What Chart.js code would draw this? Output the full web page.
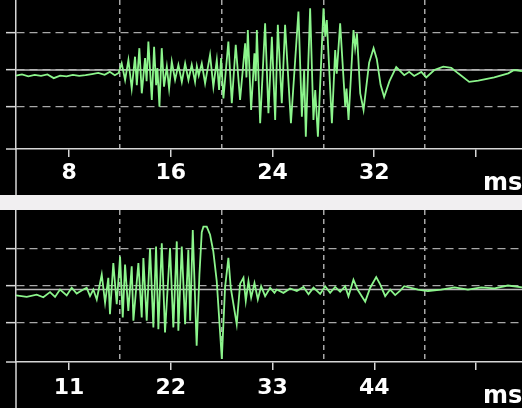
<!DOCTYPE html>
<html>
<head>
<meta charset="utf-8">
<script src="https://cdn.jsdelivr.net/npm/chart.js@4.4.1/dist/chart.umd.min.js"></script>
<style>
    html, body { margin: 0; padding: 0; background: #f1eff1; overflow: hidden; }
    body { width: 522px; height: 408px; position: relative; }
    .panel { position: absolute; left: 0; width: 522px; background: #000; }
    #topPanel { top: 0; height: 195px; }
    #bottomPanel { top: 210px; height: 198px; }
</style>
</head>
<body>
<div class="panel" id="topPanel"><canvas id="topChart" width="522" height="195"></canvas></div>
<div class="panel" id="bottomPanel"><canvas id="bottomChart" width="522" height="198"></canvas></div>
<script>
// Upper trace (time in ms, amplitude in grid divisions)
const topTimes = [3.83, 4.3, 4.8, 5.3, 5.8, 6.3, 6.8, 7.3, 7.8, 8.3, 8.8, 9.3, 9.8, 10.3, 10.8, 11.2, 11.6, 11.9,
    12.14, 12.41, 12.67, 12.93, 13.19, 13.33, 13.53, 13.72, 13.98, 14.1,
    14.24, 14.51, 14.69, 14.85, 14.95, 15.11, 15.29, 15.47, 15.69, 15.87,
    16.08, 16.34, 16.6, 16.87, 17.13, 17.39, 17.65, 17.91, 18.05, 18.2,
    18.44, 18.7, 19.09, 19.35, 19.62, 19.8, 19.96, 20.14, 20.53, 20.8,
    21.11, 21.45, 21.85, 21.95, 22.06, 22.32, 22.58, 22.68, 22.77, 23.03,
    23.42, 23.68, 23.95, 24.21, 24.42, 24.73, 24.99, 25.45, 26.04, 26.31,
    26.49, 26.62, 26.96, 27.22, 27.36, 27.57, 28.01, 28.15, 28.27, 28.67,
    28.93, 29.05, 29.32, 29.72, 29.82, 29.98, 30.37, 30.5, 30.64, 30.9,
    31.16, 31.6, 31.95, 32.2, 32.5, 32.78, 33.2, 33.73, 34.36, 34.75,
    35.14, 35.7, 36.09, 36.72, 37.43, 38.06, 38.6, 39.47, 40.18, 41.44,
    42.54, 43.0, 43.62];
const topValues = [-0.15, -0.12, -0.17, -0.13, -0.16, -0.12, -0.22, -0.15, -0.17, -0.13, -0.16, -0.14, -0.11, -0.08, -0.13, -0.05, -0.14, -0.08,
    0.18, -0.27, 0.27, -0.5, 0.36, -0.41, 0.59, -0.63, 0.32, -0.3,
    0.77, -0.81, 0.63, -0.41, 0.05, -0.99, 0.59, -0.45, 0.09, -0.5,
    0.23, -0.27, 0.14, -0.32, 0.18, -0.27, 0.14, -0.32, 0.1, -0.15,
    0.18, -0.36, 0.41, -0.45, 0.27, -0.54, 0.32, -0.77, 0.77, -0.9,
    0.68, -0.81, 0.72, -0.2, 1.08, -1.08, 0.45, -0.3, 1.08, -1.44,
    1.26, -1.17, 0.9, -1.35, 1.22, -0.9, 1.22, -1.44, 1.58, -1.26,
    0.0, -1.8, 1.67, -1.35, -0.54, -1.8, 1.67, 0.9, 1.35, -1.44,
    0.54, -0.1, 1.26, -0.99, -0.5, -1.35, 1.08, 0.6, 0.99, -0.63,
    -1.08, 0.2, 0.59, 0.3, -0.4, -0.73, -0.3, 0.08, -0.14, -0.05,
    -0.16, -0.05, -0.2, 0.0, 0.09, 0.06, -0.09, -0.32, -0.29, -0.2,
    -0.09, 0.0, -0.03];
const topRange = [3.83, 43.62];
const topLevelRange = [-2.135, 1.892];
const topTickValues = [8, 16, 24, 32, 40];
const topTickLabels = ['8', '16', '24', '32', ''];
const topGridValues = [12, 20, 28, 36];
const topBaseline = 0;

// Lower trace
const bottomTimes = [5.27, 6.43, 7.51, 8.22, 8.95, 9.49, 10.03, 10.75, 11.29, 11.83, 12.55, 12.91, 13.27, 13.63, 14.0,
    14.54, 14.9, 15.25, 15.43, 15.79, 16.16, 16.52, 16.81, 17.06, 17.41,
    17.78, 17.96, 18.5, 18.86, 19.04, 19.4, 19.76, 20.12, 20.41, 20.66,
    21.03, 21.38, 21.92, 22.28, 22.65, 22.82, 23.19, 23.55, 23.9, 24.1,
    24.38, 24.8, 25.1, 25.35, 25.53, 25.89, 26.25, 26.6, 26.97, 27.52,
    27.87, 28.23, 28.48, 29.13, 29.5, 29.86, 30.11, 30.4, 30.69, 31.05,
    31.41, 31.77, 32.2, 32.74, 33.21, 33.46, 34.18, 34.9, 35.63, 36.34,
    36.89, 37.43, 38.15, 38.69, 39.23, 39.77, 40.31, 40.85, 41.21, 41.75,
    42.19, 43.02, 43.56, 44.21, 44.64, 45.18, 45.72, 46.26, 46.8, 47.24,
    48.72, 49.8, 51.24, 52.68, 54.13, 55.56, 57.0, 58.45, 59.97];
const bottomValues = [-0.27, -0.31, -0.25, -0.32, -0.18, -0.31, -0.11, -0.27, -0.06, -0.22, -0.11, -0.06, -0.29, -0.11, -0.38,
    0.3, -0.47, 0.21, -0.78, 0.61, -0.51, 0.79, -0.87, 0.57, -0.69,
    0.52, -0.96, 0.61, -0.87, 0.75, -0.96, 1.02, -1.14, 1.06, -1.19,
    1.15, -1.28, 1.02, -1.14, 1.2, -1.23, 1.06, -1.05, 0.97, -0.96,
    1.51, -1.64, 0.3, 1.45, 1.6, 1.6, 1.38, 0.93, 0.12, -2.0,
    -0.05, 0.75, -0.05, -1.05, 0.05, 0.21, -0.42, 0.12, -0.33, 0.07,
    -0.38, -0.02, -0.29, -0.06, -0.2, -0.11, -0.2, -0.08, -0.15, -0.04,
    -0.24, -0.06, -0.23, -0.02, -0.2, -0.04, -0.17, -0.02, -0.29, 0.16,
    -0.11, -0.44, -0.06, 0.23, 0.03, -0.29, -0.11, -0.26, -0.14, -0.02,
    -0.11, -0.15, -0.11, -0.05, -0.11, -0.05, -0.08, 0.0, -0.05];
const bottomRange = [5.27, 59.97];
const bottomLevelRange = [-2.081, 2.054];
const bottomTickValues = [11, 22, 33, 44, 55];
const bottomTickLabels = ['11', '22', '33', '44', ''];
const bottomGridValues = [16.5, 27.5, 38.5, 49.5];
const bottomBaseline = -0.11;

const levels = [-1, 0, 1];
const unitText = 'ms';

const TRACE_COLOR = '#8cf58c';
const AXIS_COLOR = '#d6d6d6';
const GRID_COLOR = '#a8a8a8';
const BASE_COLOR = '#b8b8b8';

/**
 * Draws the axis line down through the label strip and the unit text
 */
const panelFrame = {
    id: 'panelFrame',
    afterDraw(chart, args, opts) {
        const { ctx, chartArea } = chart;
        const xScale = chart.scales.x;
        ctx.save();
        ctx.strokeStyle = AXIS_COLOR;
        ctx.lineWidth = 1.5;
        ctx.beginPath();
        ctx.moveTo(chartArea.left, chartArea.bottom);
        ctx.lineTo(chartArea.left, chart.height);
        ctx.moveTo(chartArea.left - 10, chartArea.bottom);
        ctx.lineTo(chartArea.left, chartArea.bottom);
        ctx.stroke();
        ctx.fillStyle = '#ffffff';
        ctx.font = 'bold 24px "DejaVu Sans"';
        ctx.textBaseline = 'alphabetic';
        ctx.fillText(opts.unit, xScale.getPixelForValue(opts.unitAt) + 7, chartArea.bottom + 41);
        ctx.restore();
    }
};

function makePanel(canvasId, times, values, range, levelRange, tickValues, tickLabels, gridValues, baseline, labelPad) {
    const allTicks = tickValues.concat(gridValues).sort((a, b) => a - b);

    return new Chart(document.getElementById(canvasId), {
        type: 'line',
        data: {
            datasets: [{
                data: times.map((t, i) => ({ x: t, y: values[i] })),
                borderColor: TRACE_COLOR,
                borderWidth: 1.8,
                pointRadius: 0,
                tension: 0,
                order: 0
            }, {
                data: [{ x: range[0], y: baseline }, { x: range[1], y: baseline }],
                borderColor: BASE_COLOR,
                borderWidth: 1.5,
                pointRadius: 0,
                order: 1
            }]
        },
        options: {
            responsive: false,
            animation: false,
            devicePixelRatio: 1,
            layout: { padding: 0 },
            plugins: {
                legend: { display: false },
                tooltip: { enabled: false },
                panelFrame: { unit: unitText, unitAt: tickValues[tickValues.length - 1] }
            },
            scales: {
                x: {
                    type: 'linear',
                    min: range[0],
                    max: range[1],
                    afterBuildTicks: scale => { scale.ticks = allTicks.map(v => ({ value: v })); },
                    afterFit: scale => { scale.height = 46; },
                    grid: {
                        color: c => gridValues.includes(c.tick.value) ? GRID_COLOR : 'transparent',
                        tickColor: c => tickValues.includes(c.tick.value) ? AXIS_COLOR : 'transparent',
                        lineWidth: 1.5,
                        tickWidth: 1.5,
                        tickLength: 8
                    },
                    border: { display: true, color: AXIS_COLOR, width: 1.5, dash: [5, 4] },
                    ticks: {
                        autoSkip: false,
                        maxRotation: 0,
                        padding: labelPad,
                        color: '#ffffff',
                        font: { family: '"DejaVu Sans"', weight: 'bold', size: 22 },
                        callback: value => {
                            const idx = tickValues.indexOf(value);
                            return idx >= 0 ? tickLabels[idx] : '';
                        }
                    }
                },
                y: {
                    type: 'linear',
                    min: levelRange[0],
                    max: levelRange[1],
                    afterBuildTicks: scale => { scale.ticks = levels.map(v => ({ value: v })); },
                    afterFit: scale => { scale.width = 16; },
                    grid: {
                        color: GRID_COLOR,
                        tickColor: AXIS_COLOR,
                        lineWidth: 1.3,
                        tickWidth: 1.5,
                        tickLength: 10
                    },
                    border: { display: true, color: AXIS_COLOR, width: 1.5, dash: [8, 5] },
                    ticks: { display: false }
                }
            }
        },
        plugins: [panelFrame]
    });
}

makePanel('topChart', topTimes, topValues, topRange, topLevelRange,
    topTickValues, topTickLabels, topGridValues, topBaseline, 3);
makePanel('bottomChart', bottomTimes, bottomValues, bottomRange, bottomLevelRange,
    bottomTickValues, bottomTickLabels, bottomGridValues, bottomBaseline, 5);
</script>
</body>
</html>
